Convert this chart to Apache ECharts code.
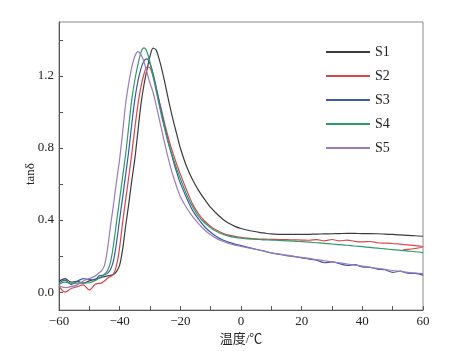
<!DOCTYPE html>
<html>
<head>
<meta charset="utf-8">
<script src="https://cdn.jsdelivr.net/npm/echarts@6/dist/echarts.min.js"></script>
<style>
  html, body { margin: 0; padding: 0; background: #fff; }
  #chart { width: 476px; height: 351px; }
</style>
</head>
<body>
<div id="chart"></div>
<script>
// 温度网格 (℃)
const temps = [-60, -58, -56, -54, -52, -50, -48,
  -47, -46, -45, -44, -43, -42, -41, -40, -39, -38, -37, -36, -35, -34,
  -33, -32, -31, -30, -29, -28, -27, -26, -25, -24, -23, -22, -21, -20,
  -18, -16, -14, -12, -10, -8, -6, -4, -2, 0, 2, 4, 6, 8,
  10, 12.5, 15, 17.5, 20, 22.5, 25, 27.5, 30, 32.5, 35, 37.5, 40, 42.5, 45, 47.5, 50, 52.5, 55, 57.5, 60];

const seriesNames = ['S1', 'S2', 'S3', 'S4', 'S5'];

const s1 = [0.06, 0.075, 0.055, 0.06, 0.05, 0.062, 0.072,
  0.078, 0.082, 0.086, 0.09, 0.093, 0.098, 0.115, 0.15, 0.24, 0.37, 0.49, 0.62, 0.74, 0.89,
  1.04, 1.15, 1.235, 1.31, 1.355, 1.345, 1.295, 1.23, 1.155, 1.075, 1.0, 0.93, 0.865, 0.8,
  0.7, 0.625, 0.565, 0.515, 0.47, 0.435, 0.405, 0.382, 0.365, 0.353, 0.345, 0.338, 0.332, 0.327,
  0.323, 0.321, 0.32, 0.32, 0.32, 0.321, 0.322, 0.323, 0.324, 0.325, 0.326, 0.326, 0.325, 0.325, 0.324, 0.322, 0.32, 0.318, 0.315, 0.313, 0.31];

const s2 = [0.033, 0.0, 0.02, 0.03, 0.04, 0.012, 0.045,
  0.048, 0.05, 0.062, 0.077, 0.087, 0.1, 0.15, 0.25, 0.39, 0.515, 0.64, 0.77, 0.91, 1.04,
  1.14, 1.21, 1.25, 1.245, 1.2, 1.135, 1.065, 0.995, 0.925, 0.86, 0.8, 0.75, 0.7, 0.655,
  0.57, 0.49, 0.435, 0.395, 0.365, 0.343, 0.327, 0.316, 0.309, 0.304, 0.3, 0.297, 0.295, 0.294,
  0.293, 0.292, 0.291, 0.29, 0.289, 0.288, 0.291, 0.285, 0.292, 0.284, 0.289, 0.282, 0.279, 0.281, 0.274, 0.272, 0.27, 0.266, 0.262, 0.258, 0.252];
// S2 末端回折
const s2Tail = [[53.4, 0.234]];

const s3 = [0.05, 0.066, 0.042, 0.06, 0.075, 0.07, 0.068,
  0.088, 0.092, 0.097, 0.104, 0.125, 0.177, 0.279, 0.406, 0.529, 0.656, 0.785, 0.935, 1.07, 1.17,
  1.24, 1.283, 1.295, 1.27, 1.215, 1.14, 1.06, 0.98, 0.905, 0.835, 0.77, 0.71, 0.655, 0.605,
  0.525, 0.455, 0.405, 0.363, 0.332, 0.307, 0.289, 0.276, 0.266, 0.258, 0.25, 0.242, 0.234, 0.226,
  0.217, 0.21, 0.203, 0.197, 0.19, 0.183, 0.177, 0.163, 0.168, 0.158, 0.148, 0.152, 0.14, 0.137, 0.128, 0.124, 0.11, 0.116, 0.105, 0.104, 0.094];

const s4 = [0.042, 0.055, 0.05, 0.05, 0.05, 0.052, 0.065,
  0.075, 0.085, 0.1, 0.12, 0.168, 0.266, 0.394, 0.516, 0.644, 0.77, 0.922, 1.07, 1.178, 1.262,
  1.33, 1.356, 1.335, 1.275, 1.2, 1.12, 1.04, 0.965, 0.895, 0.83, 0.775, 0.725, 0.675, 0.63,
  0.545, 0.475, 0.422, 0.385, 0.357, 0.336, 0.321, 0.311, 0.304, 0.299, 0.296, 0.294, 0.292, 0.29,
  0.289, 0.287, 0.285, 0.283, 0.28, 0.277, 0.274, 0.271, 0.267, 0.264, 0.26, 0.256, 0.252, 0.248, 0.244, 0.24, 0.236, 0.232, 0.228, 0.224, 0.219];

const s5 = [0.035, 0.025, 0.03, 0.04, 0.062, 0.075, 0.09,
  0.105, 0.118, 0.15, 0.24, 0.37, 0.49, 0.62, 0.74, 0.89, 1.05, 1.16, 1.25, 1.31, 1.336,
  1.32, 1.28, 1.22, 1.16, 1.11, 1.04, 0.965, 0.89, 0.815, 0.744, 0.68, 0.625, 0.575, 0.53,
  0.47, 0.42, 0.38, 0.345, 0.318, 0.297, 0.282, 0.27, 0.261, 0.254, 0.247, 0.24, 0.233, 0.226,
  0.218, 0.212, 0.205, 0.199, 0.193, 0.187, 0.18, 0.174, 0.168, 0.162, 0.156, 0.15, 0.144, 0.138, 0.132, 0.126, 0.12, 0.115, 0.11, 0.106, 0.103];

// 刻度
const yTicks = [0, 0.2, 0.4, 0.6, 0.8, 1.0, 1.2, 1.4];
const yLabels = [0, 0.4, 0.8, 1.2];

const colors = ['#3c3c3c', '#d8474b', '#3b5ba5', '#2e9b6b', '#9b7bbd'];
const font = '"Liberation Serif", "Noto Sans CJK SC", serif';

const values = [s1, s2, s3, s4, s5];
const zip = vals => temps.map((t, i) => [t, vals[i]]);

const dom = document.getElementById('chart');
const myChart = echarts.init(dom);

const option = {
  animation: false,
  color: colors,
  grid: {
    left: 59,
    right: 53,
    top: 22,
    bottom: 37,
    show: true,
    borderColor: '#8a8a8a',
    borderWidth: 1,
  },
  legend: {
    orient: 'vertical',
    left: 321,
    top: 40,
    itemWidth: 44,
    itemHeight: 2,
    itemGap: 10,
    icon: 'rect',
    data: seriesNames,
    textStyle: { fontFamily: font, fontSize: 14, color: '#222' },
  },
  xAxis: {
    type: 'value',
    min: -60,
    max: 60,
    interval: 10,
    name: '温度/℃',
    nameLocation: 'middle',
    nameGap: 21,
    nameTextStyle: { fontFamily: font, fontSize: 13, color: '#222' },
    axisLine: { onZero: false, lineStyle: { color: '#555' } },
    axisTick: { inside: true, length: 4, lineStyle: { color: '#555' } },
    axisLabel: {
      margin: 5,
      fontFamily: font,
      fontSize: 13,
      color: '#222',
      formatter: v => (v % 20 === 0 ? (v < 0 ? '\u2212' + Math.abs(v) : String(v)) : ''),
    },
    splitLine: { show: false },
  },
  yAxis: {
    type: 'value',
    min: -0.1,
    max: 1.5,
    name: 'tanδ',
    nameLocation: 'middle',
    nameGap: 22,
    nameMoveOverlap: false,
    nameTextStyle: { fontFamily: font, fontSize: 13, color: '#222', padding: [0, 16, 0, 0] },
    axisLine: { show: true, onZero: false, lineStyle: { color: '#555' } },
    axisTick: { inside: true, length: 4, customValues: yTicks, lineStyle: { color: '#555' } },
    axisLabel: {
      margin: 5,
      fontFamily: font,
      fontSize: 13,
      color: '#222',
      customValues: yLabels,
      formatter: v => v.toFixed(1),
    },
    splitLine: { show: false },
  },
  series: values.map((vals, i) => ({
    name: seriesNames[i],
    type: 'line',
    showSymbol: false,
    smooth: 0.3,
    data: i === 1 ? zip(vals).concat(s2Tail) : zip(vals),
    lineStyle: { width: 1.2 },
  })),
};
myChart.setOption(option, true);
</script>
</body>
</html>
